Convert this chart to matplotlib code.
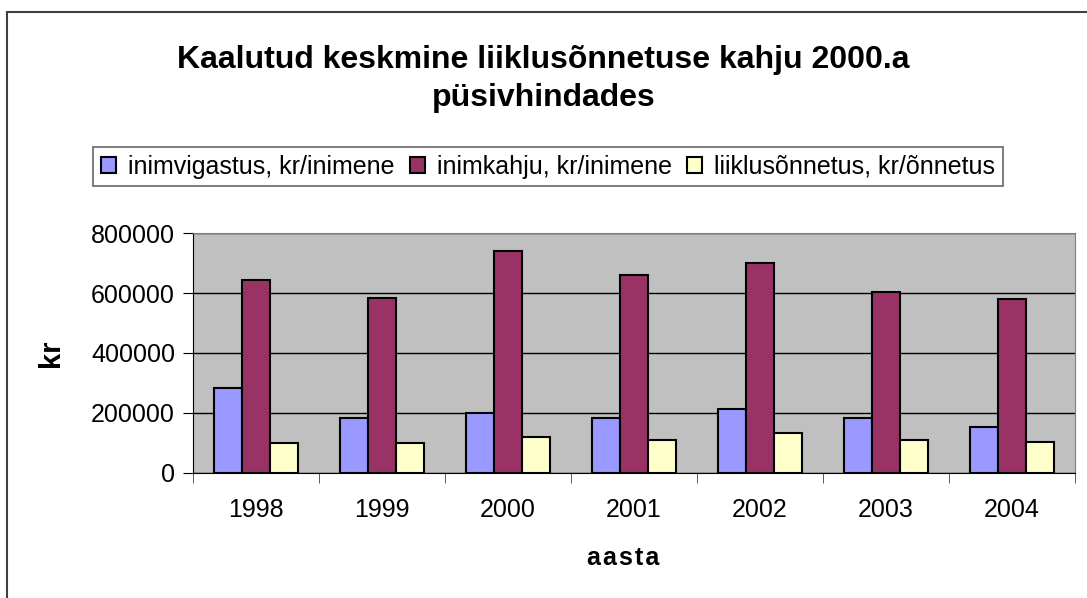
import matplotlib.pyplot as plt
import numpy as np
from matplotlib.patches import Rectangle

plt.rcParams['font.family'] = ['Liberation Sans', 'DejaVu Sans']

years = ['1998', '1999', '2000', '2001', '2002', '2003', '2004']
labels = ['inimvigastus, kr/inimene', 'inimkahju, kr/inimene', 'liiklusõnnetus, kr/õnnetus']
inimvigastus = [285000, 184000, 200000, 184000, 212000, 185000, 152000]
inimkahju = [644000, 585000, 739000, 659000, 700000, 605000, 579000]
liiklusonnetus = [99000, 99000, 119000, 111000, 132000, 111000, 105000]
colors = ['#9999FF', '#993366', '#FFFFCC']

fig = plt.figure(figsize=(10.87, 5.98), dpi=100)
ax = fig.add_axes([193/1087, 1 - 473/598, (1075 - 193)/1087, (473 - 233)/598])

# outer chart border
fig.patches.append(Rectangle((7/1087, -0.05), 1.1, 1 - 12/598 + 0.05, transform=fig.transFigure,
                             fill=False, edgecolor='#404040', linewidth=1.5))

x = np.arange(len(years))
w = 0.22
series = [inimvigastus, inimkahju, liiklusonnetus]
for i, vals in enumerate(series):
    ax.bar(x + (i - 1) * w, vals, w, color=colors[i], edgecolor='black', linewidth=1.5,
           label=labels[i], zorder=3)

ax.set_facecolor('#C0C0C0')
ax.set_ylim(0, 800000)
ax.set_xlim(-0.5, len(years) - 0.5)
ax.set_yticks(range(0, 800001, 200000))
ax.grid(axis='y', color='black', linewidth=1, zorder=1)
ax.set_xticks(x)
ax.set_xticklabels(years, fontsize=18)
ax.tick_params(axis='x', length=0, pad=18)
ax.set_xticks(np.arange(-0.5, len(years)), minor=True)
ax.tick_params(axis='x', which='minor', length=7, direction='out', color='#404040')
ax.tick_params(axis='y', labelsize=18, length=7, direction='out', pad=6)
for s in ['top', 'right']:
    ax.spines[s].set_color('#808080')
for s in ['left', 'bottom']:
    ax.spines[s].set_color('black')

ax.set_xlabel('a a s t a'.replace(' ', '\u200a'), fontsize=18, fontweight='bold')
ax.xaxis.set_label_coords((623 - 193) / (1075 - 193), -(558 - 473) / (473 - 233) + 0.05)
ax.set_ylabel('kr', fontsize=21, fontweight='bold')
ax.yaxis.set_label_coords(-(193 - 65) / (1075 - 193), 0.5)

fig.text(0.5, 1 - 79/598, 'Kaalutud keskmine liiklusõnnetuse kahju 2000.a\npüsivhindades',
         ha='center', va='center', fontsize=23, fontweight='bold', linespacing=1.35)

leg = fig.legend(loc='center', bbox_to_anchor=(548/1087, 1 - 167/598), ncol=3, fontsize=18,
                 frameon=True, fancybox=False, edgecolor='#404040', handlelength=0.6,
                 handleheight=0.6, handletextpad=0.5, columnspacing=0.6, borderpad=0.3,
                 borderaxespad=0)
leg.get_frame().set_linewidth(1.2)

fig.savefig('out.png', dpi=100)
